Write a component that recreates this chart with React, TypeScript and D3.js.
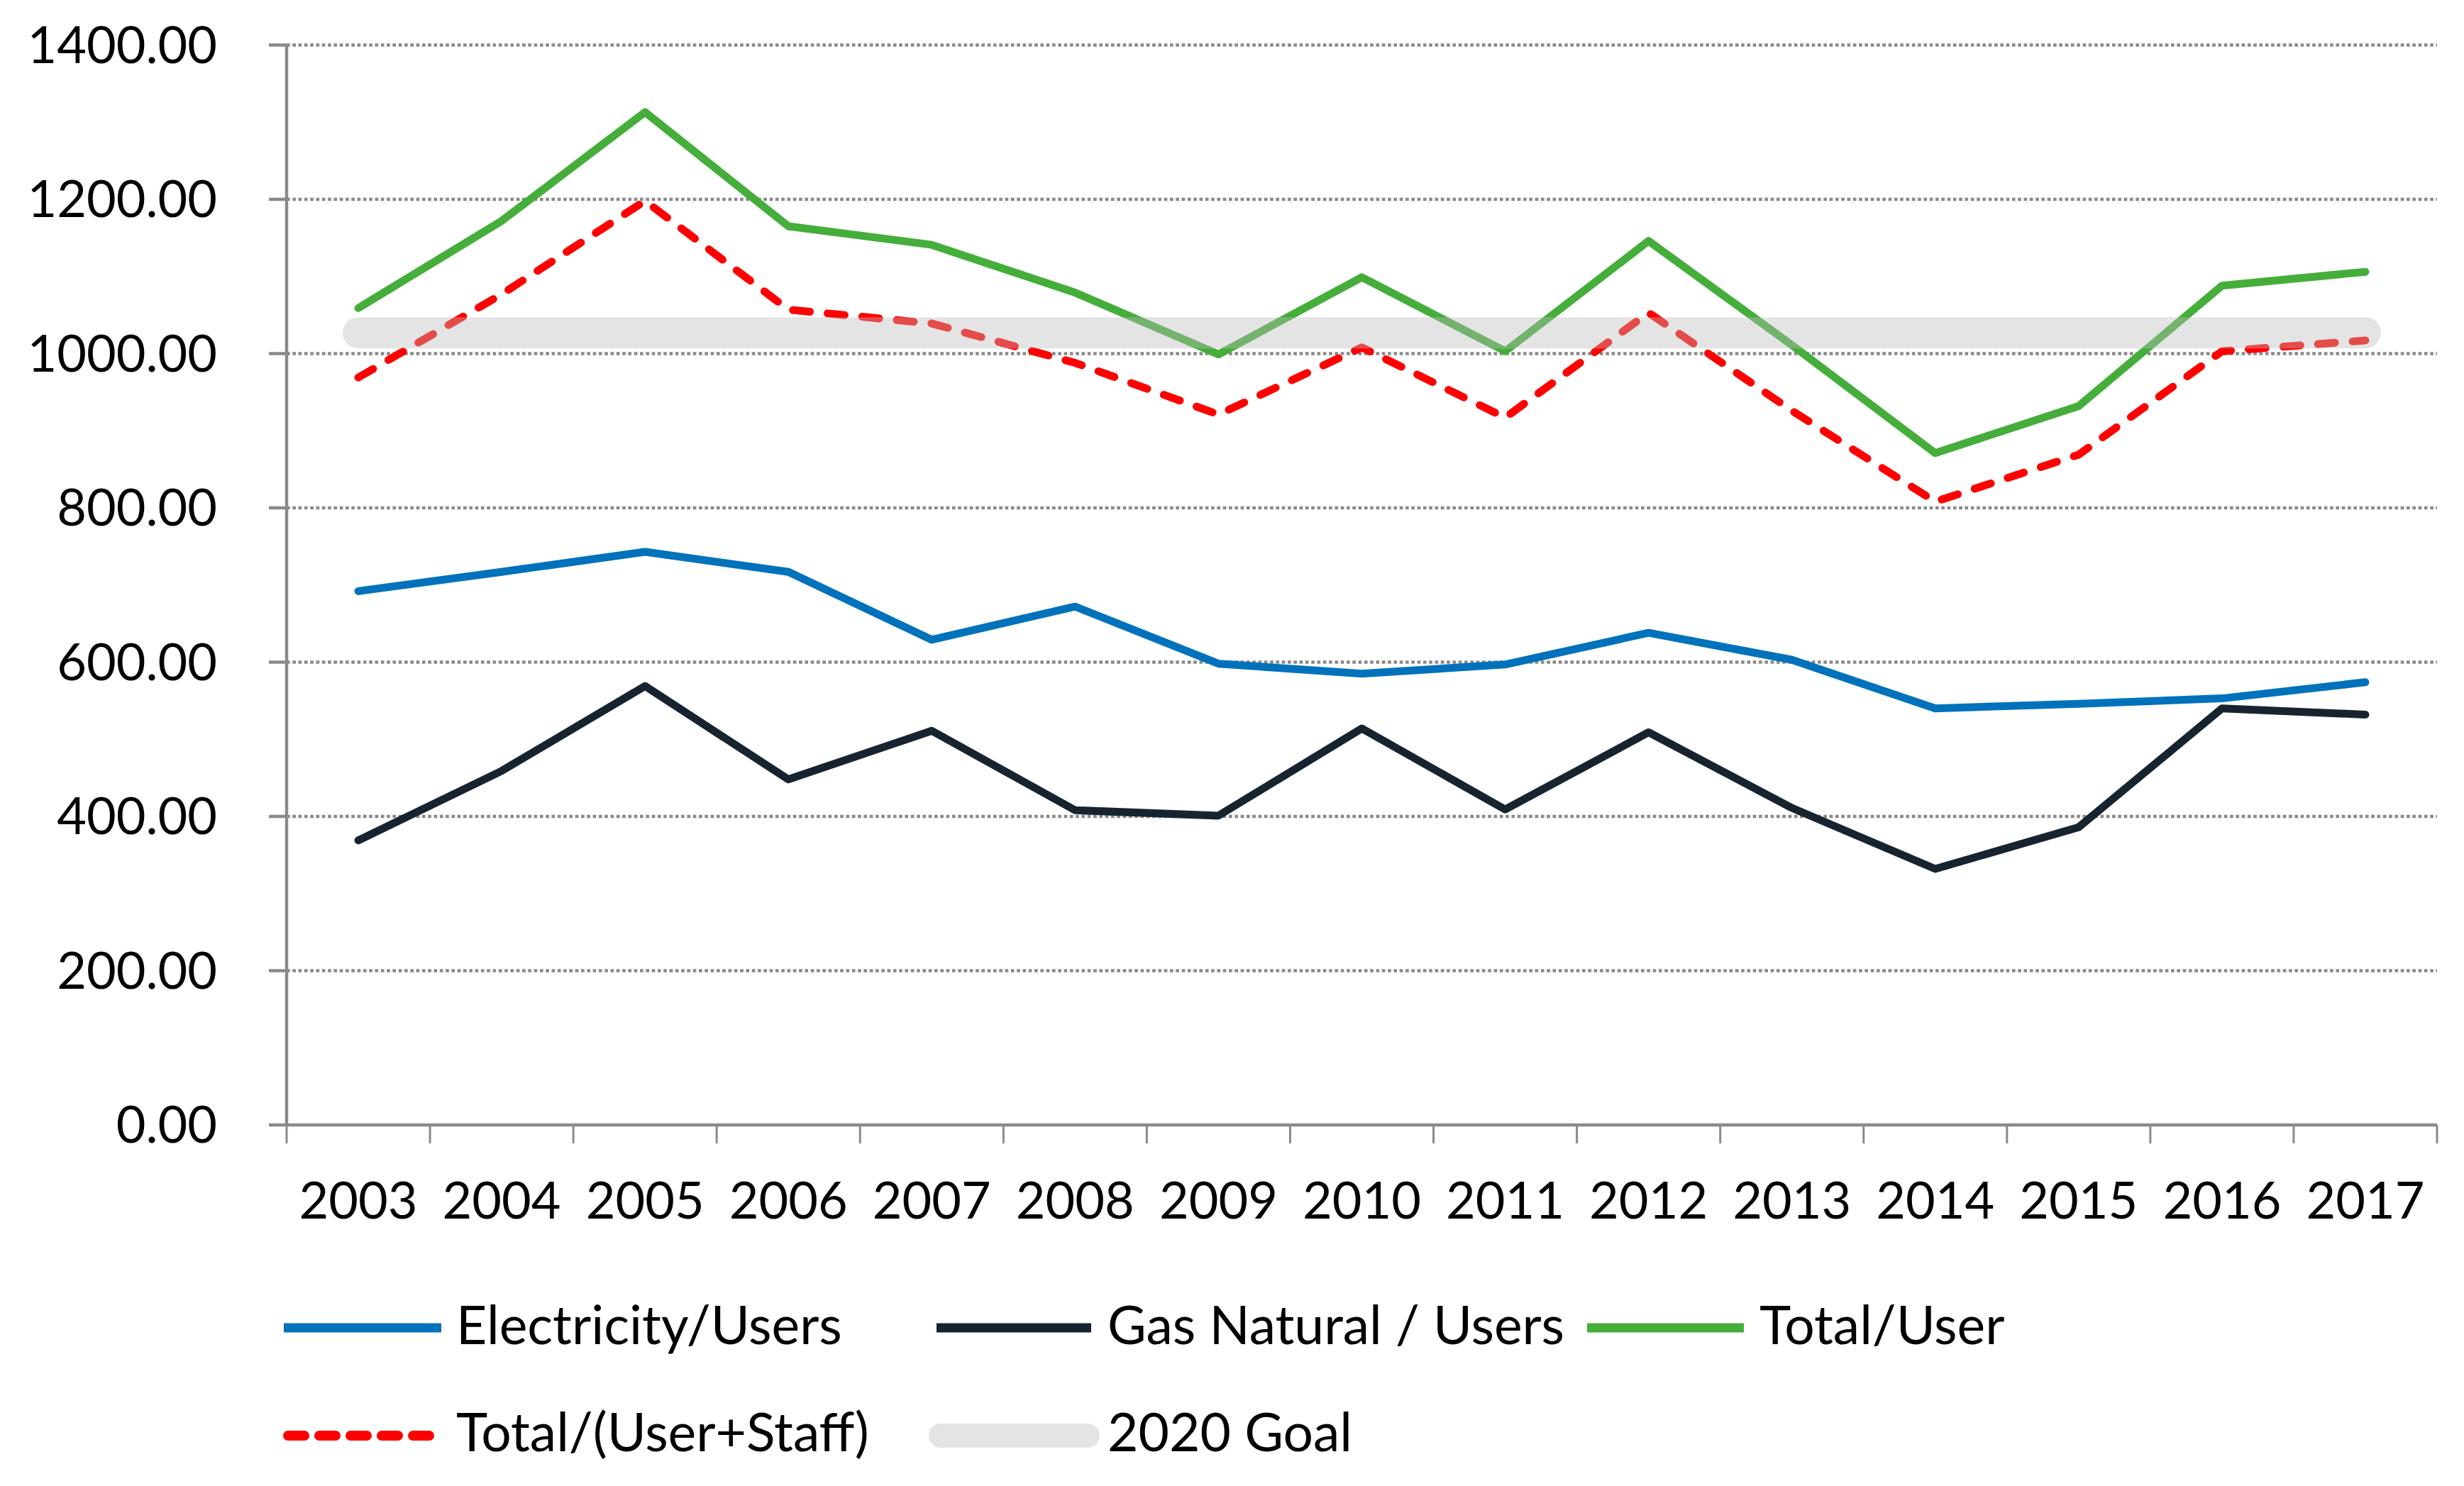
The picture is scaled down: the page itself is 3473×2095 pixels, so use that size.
import React from 'react';
import * as d3 from 'd3';

// values
const years = ['2003', '2004', '2005', '2006', '2007', '2008', '2009', '2010', '2011', '2012', '2013', '2014', '2015', '2016', '2017'];
const electricityUsers = [692, 717, 743, 717, 629, 672, 598, 585, 597, 638, 603, 540, 546, 553, 574];
const gasNaturalUsers = [369, 459, 569, 448, 511, 408, 401, 514, 409, 509, 411, 332, 386, 540, 532];
const totalUser = [1059, 1172, 1313, 1165, 1141, 1079, 999, 1099, 1003, 1146, 1011, 871, 932, 1088, 1106];
const totalUserStaff = [969, 1077, 1198, 1057, 1039, 988, 921, 1008, 917, 1053, 926, 808, 869, 1003, 1017];
const goal2020 = [1027, 1027, 1027, 1027, 1027, 1027, 1027, 1027, 1027, 1027, 1027, 1027, 1027, 1027, 1027];
const yTicks = [0, 200, 400, 600, 800, 1000, 1200, 1400];

const WIDTH = 3473;
const HEIGHT = 2095;
const FONT = 'Lato, "Open Sans", sans-serif';
const AXIS_GRAY = '#8a8a8a';

const x = d3.scaleBand<string>().domain(years).range([404, 3435]).padding(0);
const y = d3.scaleLinear().domain([0, 1400]).range([1586, 63.5]);
const cx = (yr: string) => (x(yr) as number) + x.bandwidth() / 2;

const line = d3
  .line<number>()
  .x((_, i) => cx(years[i]))
  .y((d) => y(d));

const series = [
  { name: 'Electricity/Users', values: electricityUsers, color: '#0072bb', dash: undefined },
  { name: 'Gas Natural / Users', values: gasNaturalUsers, color: '#172430', dash: undefined },
  { name: 'Total/User', values: totalUser, color: '#45ae3b', dash: undefined },
  { name: 'Total/(User+Staff)', values: totalUserStaff, color: '#ff0000', dash: '24,25' },
];

// legend slots (two rows)
const legendItems = [
  { label: 'Electricity/Users', color: '#0072bb', x0: 400, x1: 622, tx: 643, row: 0, kind: 'solid' },
  { label: 'Gas Natural / Users', color: '#172430', x0: 1320, x1: 1538, tx: 1561, row: 0, kind: 'solid' },
  { label: 'Total/User', color: '#45ae3b', x0: 2237, x1: 2458, tx: 2480, row: 0, kind: 'solid' },
  { label: 'Total/(User+Staff)', color: '#ff0000', x0: 406, x1: 616, tx: 643, row: 1, kind: 'dash' },
  { label: '2020 Goal', color: '#e4e4e4', x0: 1326, x1: 1533, tx: 1561, row: 1, kind: 'goal' },
];
const legendRowY = [1872, 2024];
const legendBaseline = [1895, 2046];

export default function App() {
  const plotLeft = x.range()[0];
  const plotRight = x.range()[1];
  const axisY = y(0);

  return (
    <div style={{ position: 'absolute', left: 0, top: 0 }}>
      <svg width={WIDTH} height={HEIGHT} style={{ display: 'block', background: '#fff' }}>
        {/* gridlines */}
        {yTicks
          .filter((t) => t > 0)
          .map((t) => (
            <line
              key={'g' + t}
              x1={plotLeft}
              x2={plotRight}
              y1={y(t)}
              y2={y(t)}
              stroke={AXIS_GRAY}
              strokeWidth={4.7}
              strokeDasharray="4.7,3.6"
            />
          ))}

        {/* y axis */}
        <line x1={plotLeft} x2={plotLeft} y1={y(1400)} y2={axisY} stroke={AXIS_GRAY} strokeWidth={4.5} />
        {yTicks.map((t) => (
          <g key={'y' + t}>
            <line x1={plotLeft - 25} x2={plotLeft} y1={y(t)} y2={y(t)} stroke={AXIS_GRAY} strokeWidth={4.5} />
            <text
              x={306}
              y={y(t) + 25}
              textAnchor="end"
              fontFamily={FONT}
              fontSize={72}
              fill="#000"
            >
              {d3.format('.2f')(t)}
            </text>
          </g>
        ))}

        {/* x axis */}
        <line x1={plotLeft} x2={plotRight} y1={axisY} y2={axisY} stroke={AXIS_GRAY} strokeWidth={4.5} />
        {years.map((yr) => (
          <line
            key={'t' + yr}
            x1={x(yr) as number}
            x2={x(yr) as number}
            y1={axisY}
            y2={axisY + 26}
            stroke={AXIS_GRAY}
            strokeWidth={3}
          />
        ))}
        <line x1={plotRight} x2={plotRight} y1={axisY} y2={axisY + 26} stroke={AXIS_GRAY} strokeWidth={3} />
        {years.map((yr) => (
          <text key={'l' + yr} x={cx(yr)} y={1718} textAnchor="middle" fontFamily={FONT} fontSize={72} fill="#000">
            {yr}
          </text>
        ))}

        {/* series */}
        {series.map((s) => (
          <path
            key={s.name}
            d={line(s.values) as string}
            fill="none"
            stroke={s.color}
            strokeWidth={11}
            strokeLinejoin="round"
            strokeLinecap="round"
            strokeDasharray={s.dash}
          />
        ))}

        {/* 2020 goal band drawn on top, semi transparent */}
        <path
          d={line(goal2020) as string}
          fill="none"
          stroke="#bbbbbb"
          strokeOpacity={0.4}
          strokeWidth={44}
          strokeLinecap="round"
        />

        {/* legend */}
        {legendItems.map((it) => {
          const ly = legendRowY[it.row];
          return (
            <g key={it.label}>
              {it.kind === 'solid' && (
                <line x1={it.x0} x2={it.x1} y1={ly} y2={ly} stroke={it.color} strokeWidth={13} strokeLinecap="butt" />
              )}
              {it.kind === 'dash' && (
                <line
                  x1={it.x0}
                  x2={it.x1}
                  y1={ly}
                  y2={ly}
                  stroke={it.color}
                  strokeWidth={14}
                  strokeLinecap="round"
                  strokeDasharray="23,21"
                />
              )}
              {it.kind === 'goal' && (
                <line x1={it.x0} x2={it.x1} y1={ly} y2={ly} stroke={it.color} strokeWidth={34} strokeLinecap="round" />
              )}
              <text x={it.tx} y={legendBaseline[it.row]} fontFamily={FONT} fontSize={75} fill="#000">
                {it.label}
              </text>
            </g>
          );
        })}
      </svg>
    </div>
  );
}
